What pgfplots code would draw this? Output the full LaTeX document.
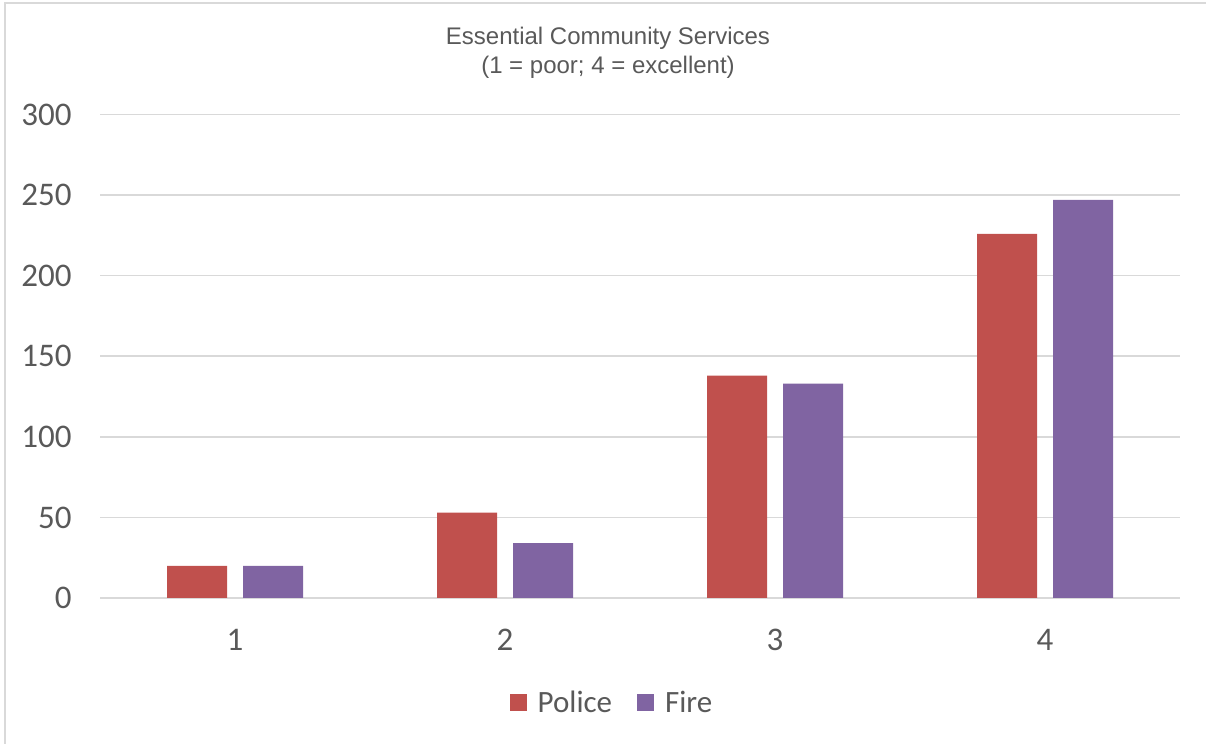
\documentclass[border=0pt]{standalone}
\usepackage{pgfplots}
\pgfplotsset{compat=1.18}
\usepackage{fontspec}
\setmainfont{Carlito}
\newfontfamily\titlefont{Liberation Sans}
\definecolor{police}{HTML}{C0504D}
\definecolor{fire}{HTML}{8064A2}
\definecolor{txt}{HTML}{595959}
\definecolor{gridgray}{HTML}{D9D9D9}

\begin{document}
\begin{tikzpicture}[x=1pt,y=1pt]
  % frame of the chart area
  \path[use as bounding box] (0,0) rectangle (603,372);
  \draw[gridgray, line width=1pt] (2.5,0) -- (2.5,370.5) -- (603,370.5);
  \begin{axis}[
    at={(50pt,73pt)}, anchor=south west,
    scale only axis, width=540pt, height=241.75pt,
    xmin=0.5, xmax=4.5, ymin=0, ymax=300,
    ybar=8pt, bar width=30pt,
    xtick={1,2,3,4}, xticklabels={1,2,3,4},
    ytick={0,50,...,300},
    ymajorgrids, grid style={gridgray, line width=0.75pt},
    axis line style={draw=none},
    major tick length=0pt,
    tick label style={font=\fontsize{16.5}{18}\selectfont, text=txt, inner sep=0pt},
    /pgf/number format/assume math mode=true,
    xticklabel style={anchor=north}, yticklabel style={anchor=east},
    xticklabel shift=15.5pt, yticklabel shift=14pt,
    legend style={at={(axis description cs:0.475,-0.217)}, anchor=center,
      draw=none, fill=none, legend columns=2,
      font=\fontsize{15.5}{17}\selectfont, text=txt,
      /tikz/every even column/.append style={column sep=10.5pt}},
    legend image code/.code={%
      \fill[#1] (0pt,-4.25pt) rectangle (8.5pt,4.25pt);
      \path (12pt,0pt);},
  ]
    \addplot[fill=police, draw=none] coordinates {(1,20) (2,53) (3,138) (4,226)};
    \addlegendentry{Police}
    \addplot[fill=fire, draw=none] coordinates {(1,20) (2,34) (3,133) (4,247)};
    \addlegendentry{Fire}
  \end{axis}
  \node[font=\titlefont\fontsize{12}{14.5}\selectfont, text=txt, align=center]
    at (304,345.75) {Essential Community Services\\(1 = poor; 4 = excellent)};
\end{tikzpicture}
\end{document}
